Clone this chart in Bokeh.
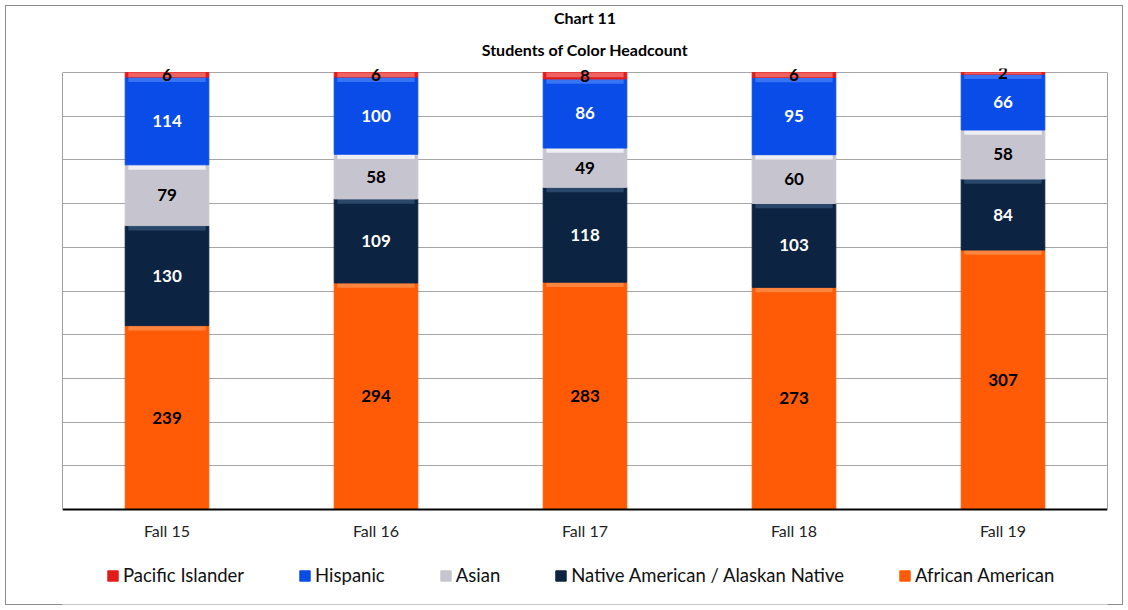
from bokeh.plotting import figure
from bokeh.models import ColumnDataSource, Legend, LegendItem, Title, FixedTicker, LinearAxis
from bokeh.embed import file_html
from bokeh.resources import INLINE
from bokeh.core.properties import value

terms = ["Fall 15", "Fall 16", "Fall 17", "Fall 18", "Fall 19"]
african_american = [239, 294, 283, 273, 307]
native_american = [130, 109, 118, 103, 84]
asian = [79, 58, 49, 60, 58]
hispanic = [114, 100, 86, 95, 66]
pacific_islander = [6, 6, 8, 6, 2]

groups = ["African American", "Native American / Alaskan Native", "Asian", "Hispanic", "Pacific Islander"]
series = [african_american, native_american, asian, hispanic, pacific_islander]
colors = ["#FF5A05", "#0C2342", "#C6C5CF", "#0A4CE8", "#E41B1B"]
highlight = ["#FF8A45", "#2C4A70", "#F2F2F6", "#3C78F4", "#F06A6A"]
label_colors = ["black", "white", "black", "white", "black"]

totals = [sum(v) for v in zip(*series)]

# layout (pixels): 100% line at y=72, 0% line at y=509
FRAME_TOP, FRAME_BOTTOM = 68, 604
PX_PER_UNIT = (509 - 72) / 100.0
Y_TOP = 100 + (72 - FRAME_TOP) / PX_PER_UNIT
Y_BOTTOM = -(FRAME_BOTTOM - 509) / PX_PER_UNIT
BEVEL = 1.1     # height of the light top band of each segment (in % units)

p = figure(x_range=terms, y_range=(Y_BOTTOM, Y_TOP), frame_width=1045,
           frame_height=FRAME_BOTTOM - FRAME_TOP,
           output_backend="svg", toolbar_location=None,
           min_border_left=62, min_border_right=21, min_border_top=FRAME_TOP,
           min_border_bottom=610 - FRAME_BOTTOM)
p.x_range.range_padding = 0
p.xgrid.visible = False
p.ygrid.ticker = FixedTicker(ticks=list(range(10, 101, 10)))
p.ygrid.grid_line_color = "#A6A6A6"
p.ygrid.grid_line_width = 1
p.outline_line_color = None
p.background_fill_color = "white"
p.border_fill_alpha = 0

# left and right frame lines, bounded to 0..100
p.yaxis.bounds = (0, 100)
p.yaxis.axis_line_color = "#A0A0A0"
p.yaxis.major_tick_line_color = None
p.yaxis.minor_tick_line_color = None
p.yaxis.major_label_text_font_size = "0px"
p.yaxis.ticker = FixedTicker(ticks=[])
right_axis = LinearAxis(bounds=(0, 100), axis_line_color="#A0A0A0", major_tick_line_color=None,
                        minor_tick_line_color=None, major_label_text_font_size="0px",
                        ticker=FixedTicker(ticks=[]))
p.add_layout(right_axis, "right")

p.xaxis.fixed_location = 0
p.xaxis.axis_line_color = "black"
p.xaxis.axis_line_width = 2
p.xaxis.major_tick_line_color = None
p.xaxis.minor_tick_line_color = None
p.xaxis.major_label_text_font = "Lato"
p.xaxis.major_label_text_font_size = "16px"
p.xaxis.major_label_text_color = "#222222"
p.xaxis.major_label_standoff = 5

renderers = []
cum = [0.0] * len(terms)
for name, vals, col, hcol, lcol in zip(groups, series, colors, highlight, label_colors):
    bottoms = list(cum)
    pct = [v / t * 100 for v, t in zip(vals, totals)]
    tops = [b + q for b, q in zip(bottoms, pct)]
    cum = tops
    src = ColumnDataSource(dict(term=terms, bottom=bottoms, top=tops,
                                band=[max(b, t - BEVEL) for b, t in zip(bottoms, tops)],
                                mid=[(b + t) / 2 for b, t in zip(bottoms, tops)],
                                label=[str(v) for v in vals]))
    r = p.vbar(x="term", bottom="bottom", top="top", width=0.4, source=src,
               fill_color=col, line_color=col, line_width=1)
    p.vbar(x="term", bottom="band", top="top", width=0.37, source=src,
           fill_color=hcol, line_color=None, fill_alpha=0.9)
    renderers.append((name, r))
    p.text(x="term", y="mid", text="label", source=src, text_align="center",
           text_baseline="middle", text_font=value("Lato"), text_font_style="bold",
           text_font_size="17px", text_color=lcol)

p.add_layout(Title(text="Students of Color Headcount", align="center", text_font="Lato",
                   text_font_style="bold", text_font_size="16px", text_color="black",
                   standoff=20), "above")
p.add_layout(Title(text="Chart 11", align="center", text_font="Lato",
                   text_font_style="bold", text_font_size="16px", text_color="black",
                   standoff=1), "above")

items = [LegendItem(label=name, renderers=[r]) for name, r in reversed(renderers)]
legend = Legend(items=items, orientation="horizontal", location=(44, 18),
                glyph_width=13, glyph_height=13, label_standoff=4, spacing=54,
                label_text_font="Lato", label_text_font_size="18.5px", label_text_color="#111111",
                label_height=19, border_line_color=None, background_fill_alpha=0,
                padding=0, margin=0)
p.add_layout(legend, "center")

p.styles = {"box-shadow": "inset 0 0 0 5px #FFFFFF, inset 0 0 0 6px #8C8C8C"}

open("out.html", "w").write(file_html(p, INLINE))
